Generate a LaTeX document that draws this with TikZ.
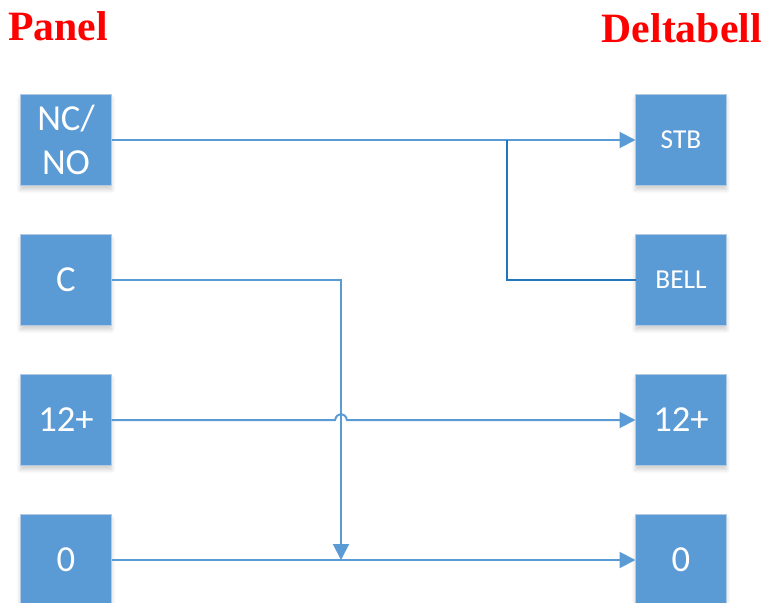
\documentclass[tikz,border=0pt]{standalone}
\usepackage{fontspec}
\setmainfont{Carlito}
\newfontfamily\headfont{Liberation Serif}
\usetikzlibrary{arrows.meta,shadows.blur}
\definecolor{boxblue}{HTML}{5B9BD5}
\definecolor{boxedge}{HTML}{B4C9E2}
\definecolor{bellblue}{HTML}{2277BC}

\begin{document}
\begin{tikzpicture}[x=0.75pt, y=-0.75pt,
		node_style/.style={rectangle,draw=boxedge,line width=0.75pt,fill=boxblue,text=white,
			minimum size=68.25pt,inner sep=0pt,outer sep=0pt,align=center,
			blur shadow={shadow xshift=0pt,shadow yshift=-3pt,shadow blur radius=3pt,shadow opacity=20,shadow blur steps=6},
			font=\fontsize{27.5}{33}\selectfont},
		small_style/.style={node_style,font=\fontsize{20.5}{24}\selectfont},
		head_style/.style={text=red,inner sep=0pt,font=\headfont\bfseries\fontsize{31.3}{36}\selectfont},
		edge_style/.style={draw=boxblue,line width=1.5pt},
		arrow_style/.style={edge_style,-{Triangle[length=12pt,width=12pt]}},
		bell_style/.style={draw=bellblue,line width=1.1pt}]
		
		\useasboundingbox (0,0) rectangle (764,603);
		
		\node[head_style,anchor=base west] (panel) at (8,40)  {Panel};
		\node[head_style,anchor=base east] (delta) at (762,42)  {Deltabell};
		
		\node[node_style] (p0) at (66,140)  {NC/\\NO};
		\node[node_style] (p1) at (66,280)  {C};
		\node[node_style] (p2) at (66,420)  {12+};
		\node[node_style] (p3) at (66,560)  {0};
		\node[small_style] (d0) at (681,140)  {STB};
		\node[small_style] (d1) at (681,280)  {BELL};
		\node[node_style] (d2) at (681,420)  {12+};
		\node[node_style] (d3) at (681,560)  {0};
		
		\coordinate (branch) at (507,140);
		\coordinate (jump0) at (335,420);
		\coordinate (jump1) at (347,420);
		\coordinate (drop) at (341,560);
		
		\draw[arrow_style]  (p0) -- (d0);
		\draw[bell_style]  (d1) -| (branch);
		\draw[arrow_style]  (p1) -| (drop);
		\draw[arrow_style]  (p2) -- (jump0) .. controls (337,412) and (345,412) .. (jump1) -- (d2);
		\draw[arrow_style]  (p3) -- (d3);
		
\end{tikzpicture}
\end{document}
